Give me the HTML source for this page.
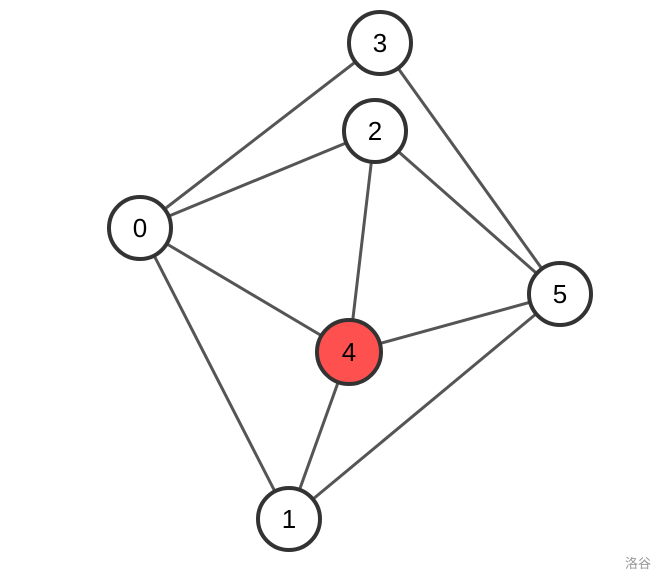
<!DOCTYPE html>
<html><head><meta charset="utf-8"><style>html,body{margin:0;padding:0;background:#fff;}svg{display:block}</style></head>
<body>
<svg width="665" height="584" xmlns="http://www.w3.org/2000/svg">
<g stroke="#555" stroke-width="3">
<line x1="140" y1="228" x2="380" y2="43"/>
<line x1="140" y1="228" x2="375" y2="131"/>
<line x1="140" y1="228" x2="349" y2="352"/>
<line x1="140" y1="228" x2="289" y2="519"/>
<line x1="380" y1="43" x2="560" y2="294"/>
<line x1="375" y1="131" x2="560" y2="294"/>
<line x1="375" y1="131" x2="349" y2="352"/>
<line x1="349" y1="352" x2="560" y2="294"/>
<line x1="349" y1="352" x2="289" y2="519"/>
<line x1="289" y1="519" x2="560" y2="294"/>
</g>
<g stroke="#333" stroke-width="4">
<circle cx="380" cy="43" r="31" fill="#fff"/>
<circle cx="375" cy="131" r="31" fill="#fff"/>
<circle cx="140" cy="228" r="31" fill="#fff"/>
<circle cx="560" cy="294" r="31" fill="#fff"/>
<circle cx="349" cy="352" r="32" fill="#ff5050"/>
<circle cx="289" cy="519" r="31" fill="#fff"/>
</g>
<g font-family="Liberation Sans, sans-serif" font-size="26" text-anchor="middle" fill="#000">
<text x="380" y="52">3</text>
<text x="375" y="140">2</text>
<text x="140" y="237">0</text>
<text x="560" y="303">5</text>
<text x="349" y="361">4</text>
<text x="289" y="528">1</text>
</g>
<text x="638" y="568" font-family="Liberation Sans, Noto Sans CJK SC, sans-serif" font-size="13" fill="#999" text-anchor="middle">洛谷</text>
</svg>
</body></html>
